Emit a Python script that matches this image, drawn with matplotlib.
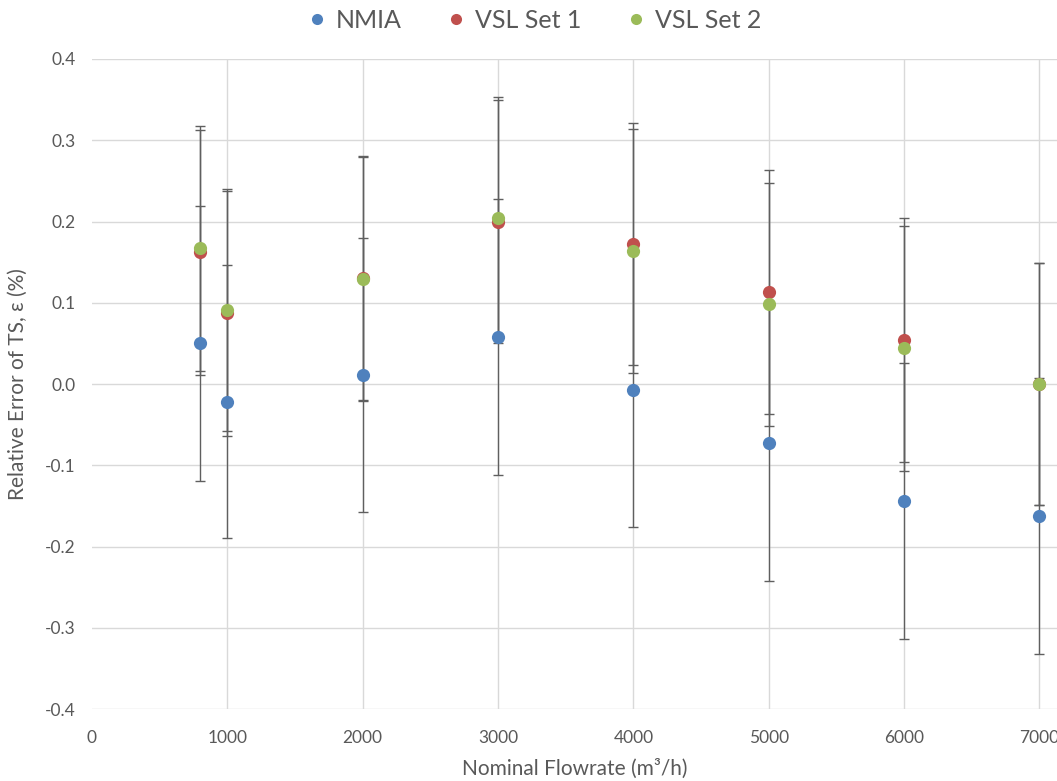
import matplotlib.pyplot as plt
from matplotlib.lines import Line2D

# Data
flow = [800, 1000, 2000, 3000, 4000, 5000, 6000, 7000]
nmia = [0.050, -0.022, 0.011, 0.058, -0.007, -0.073, -0.144, -0.162]
nmia_err = [0.169, 0.168, 0.169, 0.170, 0.169, 0.169, 0.170, 0.170]
vsl1 = [0.162, 0.087, 0.130, 0.200, 0.172, 0.113, 0.054, 0.000]
vsl1_err = [0.151, 0.151, 0.150, 0.150, 0.149, 0.150, 0.150, 0.149]
vsl2 = [0.167, 0.091, 0.129, 0.204, 0.164, 0.098, 0.044, 0.000]
vsl2_err = [0.151, 0.149, 0.150, 0.149, 0.150, 0.150, 0.151, 0.149]

series = [("NMIA", nmia, nmia_err, "#4F81BD"),
          ("VSL Set 1", vsl1, vsl1_err, "#C0504D"),
          ("VSL Set 2", vsl2, vsl2_err, "#9BBB59")]

plt.rcParams['font.family'] = ['Lato', 'DejaVu Sans']
text_col = "#595959"

fig = plt.figure(figsize=(10.57, 7.81), dpi=100)
ax = fig.add_axes([0.087, 0.092, 0.913, 0.8325])

# error bars first, markers on top
for name, y, err, col in series:
    ax.errorbar(flow, y, yerr=err, fmt='none', ecolor="#5F5F5F", elinewidth=1.0,
                capsize=3.6, capthick=1.0, zorder=2)
for i, (name, y, err, col) in enumerate(series):
    ax.plot(flow, y, 'o', color=col, markersize=9.5, markeredgewidth=0, zorder=3 + i, label=name)

ax.set_xlim(0, 7130)
ax.set_ylim(-0.4, 0.4)
ax.set_xticks(range(0, 8000, 1000))
ax.set_yticks([-0.4, -0.3, -0.2, -0.1, 0.0, 0.1, 0.2, 0.3, 0.4])
ax.set_yticklabels([f"{v:.1f}" for v in ax.get_yticks()])
ax.grid(True, color="#D9D9D9", linewidth=1.0)
ax.get_xgridlines()[0].set_visible(False)
ax.set_axisbelow(True)
for s in ax.spines.values():
    s.set_visible(False)
ax.tick_params(length=0, labelsize=12.5, colors=text_col, pad=12)
ax.tick_params(axis='x', pad=15)

ax.set_xlabel("Nominal Flowrate (m³/h)", fontsize=15, color=text_col, labelpad=9)
ax.set_ylabel("Relative Error of TS, ε (%)", fontsize=15, color=text_col, labelpad=12)

handles = [Line2D([], [], marker='o', linestyle='none', color=c, markersize=8, markeredgewidth=0)
           for _, _, _, c in series]
fig.legend(handles, [s[0] for s in series], loc='center', bbox_to_anchor=(0.503, 0.974), ncol=3,
           frameon=False, fontsize=18, labelcolor=text_col, handletextpad=0.15,
           columnspacing=1.6, handlelength=1.2)

fig.savefig("out.png", dpi=100)
